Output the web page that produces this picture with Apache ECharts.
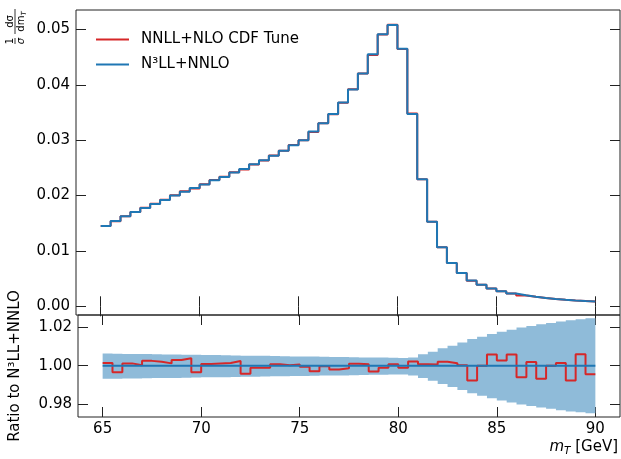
<!DOCTYPE html>
<html>
<head>
<meta charset="utf-8">
<script src="https://cdn.jsdelivr.net/npm/echarts@6/dist/echarts.min.js"></script>
<style>
  html, body { margin: 0; padding: 0; background: #fff; }
  #chart { width: 621px; height: 459px; }
</style>
</head>
<body>
<div id="chart"></div>
<script>
// Transverse-mass bin edges [GeV]
const binEdges = [
  65, 65.5, 66, 66.5, 67, 67.5, 68, 68.5, 69, 69.5,
  70, 70.5, 71, 71.5, 72, 72.5, 73, 73.5, 74, 74.5,
  75, 75.5, 76, 76.5, 77, 77.5, 78, 78.5, 79, 79.5,
  80, 80.5, 81, 81.5, 82, 82.5, 83, 83.5, 84, 84.5,
  85, 85.5, 86, 86.5, 87, 87.5, 88, 88.5, 89, 89.5, 90
];

// Normalised distribution 1/sigma dsigma/dmT, N3LL+NNLO
const n3llNnlo = [
  0.01450, 0.01541, 0.01625, 0.01703, 0.01776, 0.01848, 0.01920, 0.02000, 0.02070, 0.02135,
  0.02200, 0.02276, 0.02336, 0.02414, 0.02480, 0.02565, 0.02637, 0.02720, 0.02810, 0.02910,
  0.03000, 0.03154, 0.03305, 0.03474, 0.03678, 0.03913, 0.04202, 0.04552, 0.04913, 0.05081,
  0.04650, 0.03474, 0.02294, 0.01525, 0.01066, 0.00782, 0.00600, 0.00466, 0.00390, 0.00320,
  0.00270, 0.00232, 0.00198, 0.00172, 0.00150, 0.00132, 0.00118, 0.00106, 0.00096, 0.00088
];

// NNLL+NLO CDF tune relative to N3LL+NNLO
const ratioCdfTune = [
  1.0014, 0.9966, 1.0012, 1.0002, 1.0025, 1.0020, 1.0012, 1.0029, 1.0039, 0.9966,
  1.0009, 1.0012, 1.0014, 1.0024, 0.9959, 0.9990, 0.9989, 1.0008, 1.0002, 1.0006,
  0.9994, 0.9972, 0.9997, 0.9981, 0.9987, 1.0010, 1.0007, 0.9970, 0.9990, 1.0008,
  0.9989, 1.0022, 1.0008, 1.0006, 1.0021, 1.0013, 1.0002, 0.9924, 1.0000, 1.0058,
  1.0027, 1.0058, 0.9940, 1.0019, 0.9932, 1.0000, 1.0014, 0.9923, 1.0059, 0.9956
];

// Relative scale uncertainty of N3LL+NNLO (upward / downward)
const uncUp = [
  0.0063, 0.0062, 0.0061, 0.0061, 0.0060, 0.0059, 0.0058, 0.0058, 0.0057, 0.0056,
  0.0055, 0.0055, 0.0054, 0.0053, 0.0052, 0.0052, 0.0051, 0.0050, 0.0049, 0.0048,
  0.0048, 0.0047, 0.0046, 0.0045, 0.0045, 0.0044, 0.0043, 0.0042, 0.0042, 0.0041,
  0.0040, 0.0043, 0.0059, 0.0072, 0.0090, 0.0103, 0.0120, 0.0138, 0.0150, 0.0164,
  0.0176, 0.0186, 0.0197, 0.0205, 0.0214, 0.0221, 0.0228, 0.0235, 0.0240, 0.0245
];
const uncDown = [
  0.0068, 0.0067, 0.0066, 0.0066, 0.0065, 0.0064, 0.0063, 0.0063, 0.0062, 0.0061,
  0.0060, 0.0060, 0.0059, 0.0058, 0.0057, 0.0057, 0.0056, 0.0055, 0.0054, 0.0053,
  0.0053, 0.0052, 0.0051, 0.0050, 0.0050, 0.0049, 0.0048, 0.0047, 0.0047, 0.0046,
  0.0046, 0.0050, 0.0063, 0.0078, 0.0095, 0.0110, 0.0126, 0.0142, 0.0155, 0.0168,
  0.0180, 0.0190, 0.0200, 0.0208, 0.0216, 0.0223, 0.0230, 0.0236, 0.0241, 0.0246
];

const xTicks = [65, 70, 75, 80, 85, 90];
const yTicksTop = [0, 0.01, 0.02, 0.03, 0.04, 0.05];
const yTicksRatio = [0.98, 1.00, 1.02];

const labelCdf = 'NNLL+NLO CDF Tune';
const labelN3ll = 'N\u00b3LL+NNLO';

const RED = '#d62728';
const BLUE = '#1f77b4';
const BAND = '#8fbbd9';
const INK = '#000';
const FRAME = '#222';
const FONT = 'DejaVu Sans';

// step histogram points: left edge of each bin, plus closing point at last edge
function stepPoints(vals) {
  const pts = vals.map((v, i) => [binEdges[i], v]);
  pts.push([binEdges[binEdges.length - 1], vals[vals.length - 1]]);
  return pts;
}

const cdfTune = n3llNnlo.map((v, i) => v * ratioCdfTune[i]);
const n3llSelf = n3llNnlo.map((v) => v / v);

const tickStyle = { inside: true, length: 10, lineStyle: { color: FRAME, width: 1 } };
const labelStyle = { color: INK, fontSize: 15, fontFamily: FONT };

function xAx(grid, pos, withLabels) {
  return {
    type: 'value', gridIndex: grid, position: pos, min: 63.75, max: 91.25,
    axisLine: { show: false }, splitLine: { show: false },
    axisTick: Object.assign({ customValues: xTicks }, tickStyle),
    axisLabel: withLabels
      ? Object.assign({ customValues: xTicks, margin: 5 }, labelStyle)
      : { show: false }
  };
}
function yAx(grid, pos, min, max, ticks, withLabels, fmt) {
  return {
    type: 'value', gridIndex: grid, position: pos, min: min, max: max,
    axisLine: { show: false }, splitLine: { show: false },
    axisTick: Object.assign({ customValues: ticks }, tickStyle),
    axisLabel: withLabels
      ? Object.assign({ customValues: ticks, margin: 6, formatter: fmt }, labelStyle)
      : { show: false }
  };
}

const chart = echarts.init(document.getElementById('chart'), null, { renderer: 'canvas' });

const ratioAxis = yAx(1, 'left', 0.9735, 1.0262, yTicksRatio, true, (v) => v.toFixed(2));
ratioAxis.name = 'Ratio to ' + labelN3ll;
ratioAxis.nameLocation = 'middle';
ratioAxis.nameGap = 55;
ratioAxis.nameRotate = 90;
ratioAxis.nameTextStyle = { color: INK, fontSize: 15, fontFamily: FONT };

chart.setOption({
  animation: false,
  backgroundColor: '#fff',
  textStyle: { fontFamily: FONT },
  grid: [
    { left: 76, right: 1, top: 10, height: 305, show: true, borderColor: FRAME, borderWidth: 1, backgroundColor: 'transparent' },
    { left: 76, right: 1, top: 315, height: 102, show: true, borderColor: FRAME, borderWidth: 1, backgroundColor: 'transparent' }
  ],
  xAxis: [
    xAx(0, 'bottom', false),
    xAx(0, 'top', false),
    xAx(1, 'bottom', true),
    xAx(1, 'top', false)
  ],
  yAxis: [
    yAx(0, 'left', -0.00157, 0.0535, yTicksTop, true, (v) => v.toFixed(2)),
    yAx(0, 'right', -0.00157, 0.0535, yTicksTop, false),
    ratioAxis,
    yAx(1, 'right', 0.9735, 1.0262, yTicksRatio, false)
  ],
  legend: {
    data: [labelCdf, labelN3ll],
    orient: 'vertical',
    left: 91,
    top: 27,
    icon: 'rect',
    itemWidth: 33,
    itemHeight: 2,
    itemGap: 10,
    selectedMode: false,
    textStyle: { color: INK, fontSize: 15, fontFamily: FONT, lineHeight: 15, padding: [0, 0, 0, 7] }
  },
  series: [
    {
      name: labelCdf, type: 'line', xAxisIndex: 0, yAxisIndex: 0, step: 'end',
      data: stepPoints(cdfTune), showSymbol: false, symbol: 'none',
      lineStyle: { color: RED, width: 2 }, itemStyle: { color: RED }, z: 3
    },
    {
      name: labelN3ll, type: 'line', xAxisIndex: 0, yAxisIndex: 0, step: 'end',
      data: stepPoints(n3llNnlo), showSymbol: false, symbol: 'none',
      lineStyle: { color: BLUE, width: 2 }, itemStyle: { color: BLUE }, z: 4
    },
    {
      // stepped uncertainty envelope, drawn as one polygon through the axis scales
      name: 'uncertainty band', type: 'custom', xAxisIndex: 2, yAxisIndex: 2,
      data: [[binEdges[0], 1]], z: 1, silent: true,
      renderItem: function (params, api) {
        const pts = [];
        for (let i = 0; i < uncUp.length; i++) {
          pts.push(api.coord([binEdges[i], 1 + uncUp[i]]));
          pts.push(api.coord([binEdges[i + 1], 1 + uncUp[i]]));
        }
        for (let i = uncDown.length - 1; i >= 0; i--) {
          pts.push(api.coord([binEdges[i + 1], 1 - uncDown[i]]));
          pts.push(api.coord([binEdges[i], 1 - uncDown[i]]));
        }
        return { type: 'polygon', shape: { points: pts }, style: { fill: BAND } };
      }
    },
    {
      name: 'cdf ratio', type: 'line', xAxisIndex: 2, yAxisIndex: 2, step: 'end',
      data: stepPoints(ratioCdfTune), showSymbol: false, symbol: 'none',
      lineStyle: { color: RED, width: 2 }, z: 3
    },
    {
      name: 'n3ll ratio', type: 'line', xAxisIndex: 2, yAxisIndex: 2, step: 'end',
      data: stepPoints(n3llSelf), showSymbol: false, symbol: 'none',
      lineStyle: { color: BLUE, width: 2 }, z: 4
    }
  ],
  graphic: [
    {
      // y-axis title of the upper panel: (1/sigma) dsigma/dm_T, written bottom-to-top
      type: 'group', x: 15, y: 28, rotation: Math.PI / 2,
      children: [
        { type: 'text', x: -13, y: -5, style: { text: '1', fill: INK, font: '10px "DejaVu Sans"', align: 'center', verticalAlign: 'middle' } },
        { type: 'line', shape: { x1: -16, y1: 0, x2: -10, y2: 0 }, style: { stroke: INK, lineWidth: 0.8 } },
        { type: 'text', x: -13, y: 6, style: { text: '\u03c3', fill: INK, font: 'italic 10px "DejaVu Sans"', align: 'center', verticalAlign: 'middle' } },
        { type: 'text', x: 6.5, y: -5, style: { text: 'd\u03c3', fill: INK, font: '10px "DejaVu Sans"', align: 'center', verticalAlign: 'middle' } },
        { type: 'line', shape: { x1: -6, y1: 0, x2: 19, y2: 0 }, style: { stroke: INK, lineWidth: 0.8 } },
        {
          type: 'text', x: 6.5, y: 6.5,
          style: {
            text: '{a|dm}{b|T}', fill: INK, align: 'center', verticalAlign: 'middle',
            rich: {
              a: { fontSize: 10, fontFamily: FONT, lineHeight: 12, fill: INK },
              b: { fontSize: 7, fontFamily: FONT, fontStyle: 'italic', lineHeight: 7, verticalAlign: 'bottom', fill: INK }
            }
          }
        }
      ]
    },
    {
      // x-axis title
      type: 'text', right: 3, top: 440,
      style: {
        text: '{m|m}{s|T}{n| [GeV]}', fill: INK,
        rich: {
          m: { fontSize: 15, fontFamily: FONT, fontStyle: 'italic', lineHeight: 18, fill: INK },
          s: { fontSize: 10.5, fontFamily: FONT, fontStyle: 'italic', lineHeight: 10, verticalAlign: 'bottom', fill: INK },
          n: { fontSize: 15, fontFamily: FONT, lineHeight: 18, fill: INK }
        }
      }
    }
  ]
});
</script>
</body>
</html>
